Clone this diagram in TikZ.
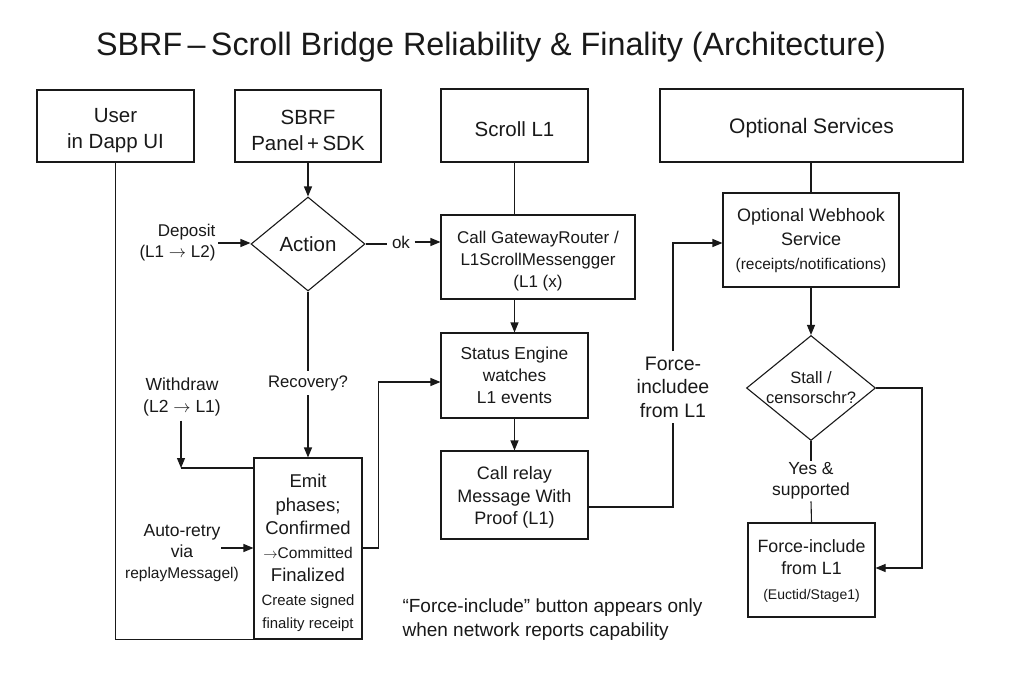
\documentclass[tikz,border=0pt]{standalone}
\usepackage{fontspec}
\setmainfont{Liberation Sans}
\usetikzlibrary{arrows.meta,shapes.geometric}
\newcommand\fs[2]{\fontsize{#1}{#2}\selectfont}
\newcommand\tup[1]{\rule{0pt}{#1}}
\begin{document}
\begin{tikzpicture}[x=1pt,y=-1pt, line width=1.1pt, color=black!90,
  box/.style={draw, rectangle, inner sep=0pt, align=center},
  arr/.style={-{Triangle[length=10pt,width=8pt]}},
  lbl/.style={inner sep=4pt, align=center}]
\useasboundingbox (0,0) rectangle (1024,682);
\fill[white] (0,0) rectangle (1024,682);

% title
\node[font=\fs{32.3}{36}, inner sep=0pt] (title) at (491,47) {SBRF\,–\,Scroll Bridge Reliability \& Finality (Architecture)};

% top row
\node[box, minimum width=157pt, minimum height=72pt, font=\fs{20.5}{26}] (user) at (115.5,126) {\tup{23pt}User\\in Dapp UI};
\node[box, minimum width=146pt, minimum height=72pt, font=\fs{20.5}{26}] (sbrf) at (308,126) {\tup{23pt}SBRF\\Panel\,+\,SDK};
\node[box, minimum width=147pt, minimum height=73pt, font=\fs{20.5}{26}] (scroll) at (514.5,125.5) {\tup{22pt}Scroll L1};
\node[box, minimum width=303pt, minimum height=73pt, font=\fs{21}{26}] (opt) at (811.5,125.5) {\tup{20pt}Optional Services};

% action diamond
\node[draw, diamond, minimum width=114pt, minimum height=94pt, inner sep=0pt, font=\fs{20.5}{24}] (action) at (308,244) {Action};
\node[lbl, font=\fs{17}{21}, align=right, anchor=east, inner sep=2pt] (dep) at (218,243) {Deposit\\(L1 $\rightarrow$ L2)};
\node[lbl, font=\fs{17}{21}] (ok) at (401,242) {ok};
\node[lbl, font=\fs{16.7}{21}] (rec) at (308,383) {Recovery?};
\node[lbl, font=\fs{17.5}{22}] (wd) at (182,397) {Withdraw\\(L2 $\rightarrow$ L1)};
\node[lbl, font=\fs{17.5}{21}] (ar) at (182,553) {Auto-retry\\via\\{\fs{15.5}{21}replayMessagel)}};

% emit box
\node[box, minimum width=108pt, minimum height=181pt, font=\fs{18.5}{23.5}] (emit) at (308,548.5)
  {\tup{23pt}Emit\\phases;\\Confirmed\\{\fs{15.5}{24}$\rightarrow$Committed}\\Finalized\\{\fs{14.9}{20}Create signed}\\{\fs{14.9}{20}finality receipt}};

% middle column
\node[box, minimum width=194pt, minimum height=84pt, font=\fs{17}{22}] (gw) at (538,257) {\tup{20.5pt}Call GatewayRouter /\\L1ScrollMessengger\\(L1 (x)};
\node[box, minimum width=147pt, minimum height=85pt, font=\fs{17.3}{22}] (status) at (514.5,375.5) {Status Engine\\watches\\L1 events};
\node[box, minimum width=147pt, minimum height=88pt, font=\fs{18}{22.5}] (relay) at (514.5,495) {\tup{18pt}Call relay\\Message With\\Proof (L1)};
\node[lbl, font=\fs{19.5}{23.5}, inner sep=5pt] (fil) at (673,387) {Force-\\includee\\from L1};

% right column
\node[box, minimum width=176pt, minimum height=94pt, font=\fs{18}{24}] (webhook) at (811,240) {\tup{15pt}Optional Webhook\\Service\\{\fs{15.5}{21}(receipts/notifications)}};
\node[draw, diamond, minimum width=129pt, minimum height=105pt, inner sep=0pt] (stall) at (811,388) {};
\node[font=\fs{16.5}{20}, align=center, inner sep=0pt] (stalltxt) at (stall.center) {Stall /\\censorschr?};
\node[lbl, font=\fs{17.5}{21}, inner sep=1.5pt] (yes) at (811,481) {Yes \&\\supported};
\node[box, minimum width=127pt, minimum height=94pt, font=\fs{17.8}{22}] (force) at (811.5,570) {\tup{14.5pt}Force-include\\from L1\\[3pt]{\fs{14}{19}(Euctid/Stage1)}};

% note
\node[anchor=west, align=left, font=\fs{19}{24}, inner sep=0pt] (note) at (402,620) {“Force-include” button appears only\\when network reports capability};

% coordinates
\coordinate (wc) at (181,468);
\coordinate (ars) at (221,548);
\coordinate (stin) at ([yshift=-6.5pt]status.west);
\coordinate (rout) at ([yshift=-12pt]relay.east);
\coordinate (whin) at ([yshift=-3pt]webhook.west);
\coordinate (rt) at (922,568);

% connectors
\draw (user.south) |- (emit.south west);
\draw[arr] (action.north |- sbrf.south) -- (action.north);
\draw[arr] (dep.east) -- (dep.east -| action.west);
\draw (action.east) -- (action.east -| ok.west);
\draw[arr] (ok.east) -- (ok.east -| gw.west);
\draw (action.south) -- (rec.north);
\draw[arr] (rec.south) -- (emit.north);
\draw[arr] (wc |- wd.south) -- (wc);
\draw (wc) -- (wc -| emit.west);
\draw[arr] (ars) -- (ars -| emit.west);
\draw[arr] (emit.east |- ars) -- ++(16,0) |- (stin);
\draw (scroll.south) -- (scroll.south |- gw.north);
\draw[arr] (status.north |- gw.south) -- (status.north);
\draw[arr] (status.south) -- (relay.north);
\draw (rout) -| (fil.south);
\draw[arr] (fil.north) |- (whin);
\draw (webhook.north |- opt.south) -- (webhook.north);
\draw[arr] (webhook.south) -- (stall.north);
\draw (stall.south) -- (yes.north);
\draw (yes.south) -- (force.north);
\draw[arr] (stall.east) -| (rt) -- (rt -| force.east);
\end{tikzpicture}
\end{document}
